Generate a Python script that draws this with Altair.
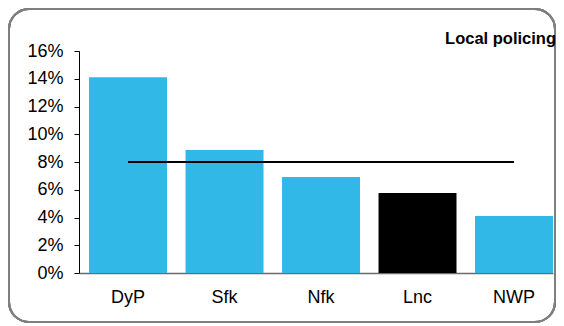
import altair as alt
import pandas as pd

categories = ["DyP", "Sfk", "Nfk", "Lnc", "NWP"]
values = [0.141, 0.0886, 0.0692, 0.0577, 0.041]
bar_colors = ["#31B8E7", "#31B8E7", "#31B8E7", "#000000", "#31B8E7"]
average = [0.08, 0.08, 0.08, 0.08, 0.08]
y_ticks = [0, 0.02, 0.04, 0.06, 0.08, 0.10, 0.12, 0.14, 0.16]
title_text = "Local policing"

df = pd.DataFrame({"cat": categories, "val": values, "color": bar_colors, "avg": average})

FONT = "Liberation Sans"

x_scale = alt.Scale(paddingInner=0.192, paddingOuter=0.052, align=1)
x_axis = alt.Axis(labelAngle=0, ticks=False, domainColor="#6b6b6b", domainWidth=1.5,
                  labelFontSize=18, labelFont=FONT, labelColor="#000000", labelPadding=15,
                  grid=False)
y_scale = alt.Scale(domain=[0, 0.16], nice=False)
y_axis = alt.Axis(values=y_ticks, format=".0%", grid=False, tickSize=5,
                  tickColor="#000000", domainColor="#000000", labelFontSize=18,
                  labelFont=FONT, labelColor="#000000", labelPadding=11,
                  labelOverlap=False)

bars = alt.Chart(df).mark_bar().encode(
    x=alt.X("cat:N", sort=categories, title=None, scale=x_scale, axis=x_axis),
    y=alt.Y("val:Q", title=None, scale=y_scale, axis=y_axis),
    color=alt.Color("color:N", scale=None),
)

line = alt.Chart(df).mark_line(color="#000000", strokeWidth=2).encode(
    x=alt.X("cat:N", sort=categories, title=None, scale=x_scale, axis=x_axis),
    y=alt.Y("avg:Q", title=None, scale=y_scale, axis=y_axis),
)

frame = alt.Chart(df).mark_rect(
    fill=None, stroke="#7f7f7f", strokeWidth=2, cornerRadius=20
).encode(
    x=alt.value(-70), x2=alt.value(476), y=alt.value(-42), y2=alt.value(271)
)

title = alt.Chart(pd.DataFrame({"t": [title_text]})).mark_text(
    align="right", baseline="alphabetic", font=FONT, fontSize=16.5, fontWeight="bold", color="#000000"
).encode(text="t:N", x=alt.value(477), y=alt.value(-7))

chart = alt.layer(frame, bars, line, title).properties(
    width=474, height=222,
    autosize=alt.AutoSizeParams(type="none"),
    padding={"left": 71, "top": 43, "right": 3, "bottom": 52},
).configure_view(stroke=None)

chart.save("out.html", embed_options={"renderer": "svg", "actions": False})
